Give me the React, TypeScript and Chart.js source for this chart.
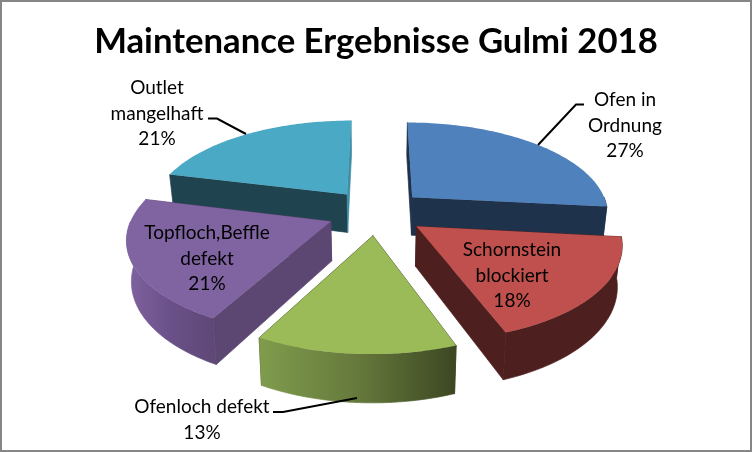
import React, { useEffect, useRef } from 'react';
import { Chart, registerables } from 'chart.js';

Chart.register(...registerables);

const titleText = 'Maintenance Ergebnisse Gulmi 2018';
const categories = ['Ofen in\nOrdnung', 'Schornstein\nblockiert', 'Ofenloch defekt', 'Topfloch,Beffle\ndefekt', 'Outlet\nmangelhaft'];
// the labels show them rounded
const values = [26.7, 17.7, 13.4, 21.1, 21.1];

const topColors = ['#4f81bd', '#c0504d', '#9bbb59', '#8064a2', '#4aa9c4'];
const startWallColors = ['#1f324b', '#4d1f1e', '#3d4a22', '#5c4672', '#1f444f'];
const endWallColors = ['#1f324b', '#4d1f1e', '#3d4a22', '#5c4672', '#3d8ea6'];
const stripStops = [
  ['#1f324b', '#1f324b'],
  ['#4d1f1e', '#4d1f1e'],
  ['#7f9c4c', '#66793c', '#3c4722'],
  ['#7f629f', '#6a5088', '#5e4775'],
  ['#1f444f', '#1f444f'],
];

// centre of each label block, first line
const labelPos = [
  [625, 100],
  [512, 250],
  [202, 407],
  [207, 233],
  [157, 88],
];
const leaders = [
  [[584, 104.5], [576, 104.5], [538, 145]],
  null,
  [[273, 412], [283, 412], [357, 398]],
  null,
  [[208, 118.5], [217, 118.5], [246, 134]],
];

// projection of the pie plane on the picture
const CX = 376.5;
const CY = 212;
const RX = 197;
const KY = 91;
const PERSP = 0.16;
const DEPTH = 39;
const BOTTOM_X = 0.98;

const project = (x: number, y: number, low: boolean) => {
  const w = 1 / (1 - PERSP * y);
  return [
    CX + RX * x * w * (low ? BOTTOM_X : 1),
    CY + KY * y * w + (low ? DEPTH * w : 0),
  ];
};

const fillPoly = (ctx: CanvasRenderingContext2D, pts: number[][], fill: any, seam = false) => {
  ctx.beginPath();
  pts.forEach((p, i) => (i ? ctx.lineTo(p[0], p[1]) : ctx.moveTo(p[0], p[1])));
  ctx.closePath();
  ctx.fillStyle = fill;
  ctx.fill();
  if (seam) {
    // hides the light hairline between neighbouring side faces
    ctx.strokeStyle = fill;
    ctx.lineWidth = 0.7;
    ctx.stroke();
  }
};

const pie3d = {
  id: 'pie3d',
  beforeDatasetDraw(chart: any) {
    const ctx: CanvasRenderingContext2D = chart.ctx;
    const arcs = chart.getDatasetMeta(0).data;
    const order = arcs
      .map((_: any, i: number) => i)
      .sort((a: number, b: number) => {
        const mid = (el: any) => Math.sin((el.startAngle + el.endAngle) / 2);
        return mid(arcs[a]) - mid(arcs[b]);
      });

    order.forEach((i: number) => {
      const el = arcs[i];
      const R = el.outerRadius;
      const mid = (el.startAngle + el.endAngle) / 2;
      const ox = (Math.cos(mid) * el.options.offset) / R;
      const oy = (Math.sin(mid) * el.options.offset) / R;
      const at = (a: number, low: boolean) => project(ox + Math.cos(a), oy + Math.sin(a), low);
      const apex = (low: boolean) => project(ox, oy, low);

      const walls = [
        { a: el.startAngle, color: startWallColors[i] },
        { a: el.endAngle, color: endWallColors[i] },
      ];
      walls.forEach((w) => {
        fillPoly(ctx, [apex(false), at(w.a, false), at(w.a, true), apex(true)], w.color, true);
      });

      // outer rim, only the part turned to the viewer
      const from = Math.max(el.startAngle, 0);
      const to = Math.min(el.endAngle, Math.PI);
      if (to > from) {
        const upper: number[][] = [];
        const lower: number[][] = [];
        for (let s = 0; s <= 60; s++) {
          const a = from + ((to - from) * s) / 60;
          upper.push(at(a, false));
          lower.push(at(a, true));
        }
        const xs = upper.concat(lower).map((p) => p[0]);
        const grad = ctx.createLinearGradient(Math.min(...xs), 0, Math.max(...xs), 0);
        stripStops[i].forEach((c, n, all) => grad.addColorStop(n / (all.length - 1), c));
        fillPoly(ctx, upper.concat(lower.reverse()), grad, true);
      }

      const top: number[][] = [apex(false)];
      for (let s = 0; s <= 80; s++) {
        top.push(at(el.startAngle + ((el.endAngle - el.startAngle) * s) / 80, false));
      }
      fillPoly(ctx, top, el.options.backgroundColor);
    });
    return false;
  },
  afterDraw(chart: any) {
    const ctx: CanvasRenderingContext2D = chart.ctx;
    ctx.save();

    ctx.strokeStyle = '#000000';
    ctx.lineWidth = 2;
    leaders.forEach((pts) => {
      if (!pts) return;
      ctx.beginPath();
      pts.forEach((p, i) => (i ? ctx.lineTo(p[0], p[1]) : ctx.moveTo(p[0], p[1])));
      ctx.stroke();
    });

    ctx.fillStyle = '#000000';
    ctx.font = '19px Lato';
    ctx.textAlign = 'center';
    ctx.textBaseline = 'middle';
    categories.forEach((name, i) => {
      const lines = name.split('\n').concat(Math.round(values[i]) + '%');
      lines.forEach((line, n) => {
        ctx.fillText(line, labelPos[i][0], labelPos[i][1] + n * 25.5);
      });
    });

    ctx.strokeStyle = '#868686';
    ctx.lineWidth = 2;
    ctx.strokeRect(1, 1, 750, 450);
    ctx.restore();
  },
};

const App = () => {
  const chartRef = useRef<HTMLCanvasElement>(null);

  useEffect(() => {
    if (!chartRef.current) return;
    const chart = new Chart(chartRef.current, {
      type: 'pie',
      data: {
        labels: categories,
        datasets: [{
          data: values,
          backgroundColor: topColors,
          borderWidth: 0,
          offset: 45,
        }],
      },
      options: {
        responsive: false,
        animation: false,
        radius: 180,
        layout: { padding: 0 },
        plugins: {
          legend: { display: false },
          tooltip: { enabled: false },
          title: {
            display: true,
            text: titleText,
            color: '#000000',
            font: { family: 'Lato', size: 34.7, weight: 'bold' },
            padding: { top: 21, bottom: 10 },
          },
        },
      },
      plugins: [pie3d],
    } as any);

    return () => {
      chart.destroy();
    };
  }, []);

  return (
    <canvas
      ref={chartRef}
      width={752}
      height={452}
      style={{ position: 'fixed', left: 0, top: 0, background: '#ffffff' }}
    />
  );
};

export default App;
